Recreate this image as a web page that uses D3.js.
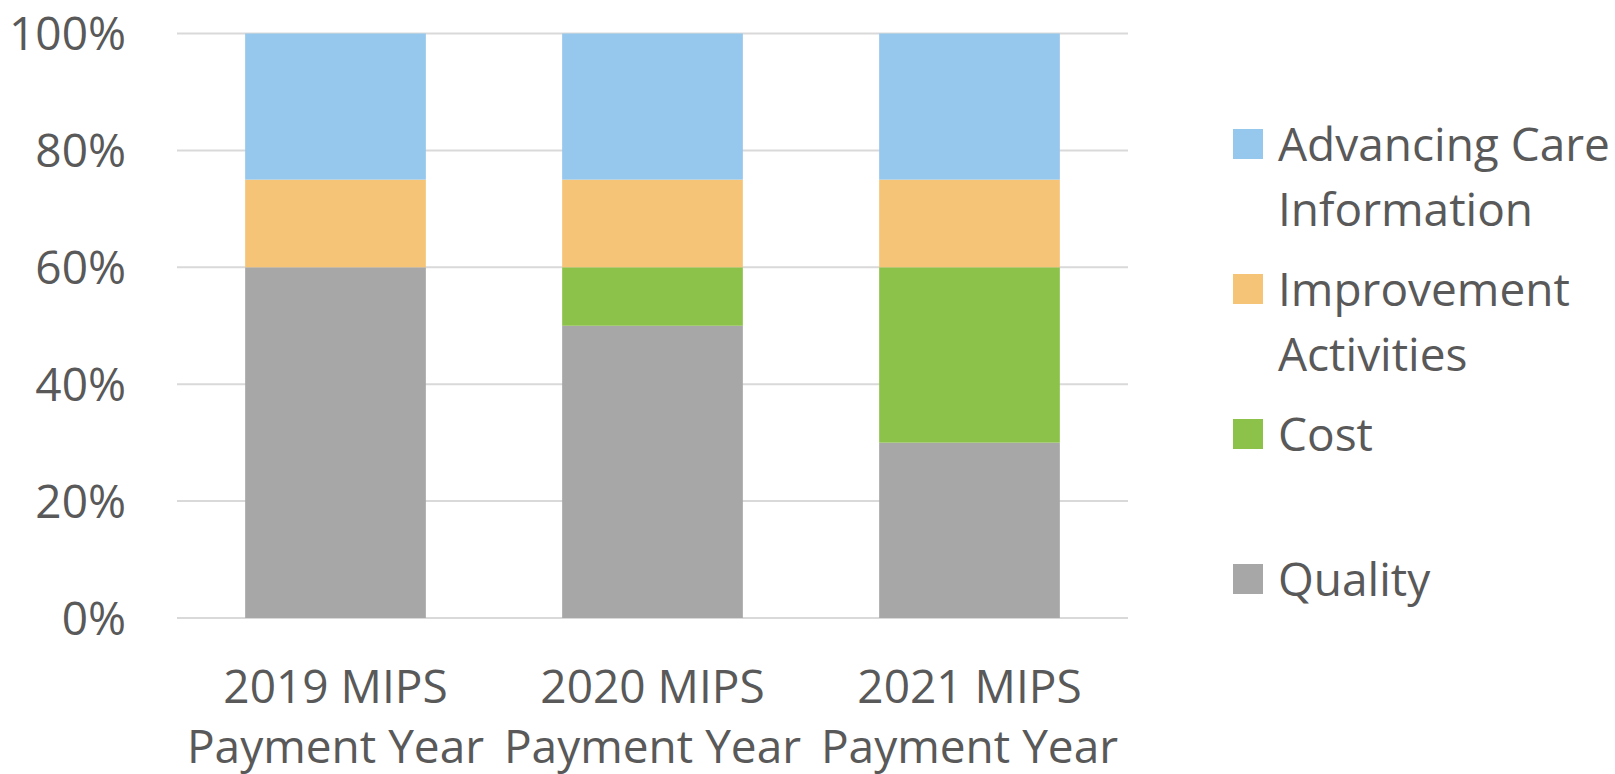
<!DOCTYPE html>
<html>
<head>
<meta charset="utf-8">
<script src="https://cdn.jsdelivr.net/npm/d3@7"></script>
<style>
  html, body { margin: 0; padding: 0; background: #fff; }
  text { font-family: "Open Sans", "Noto Sans", sans-serif; fill: #595959; }
</style>
</head>
<body>
<div class="chart"></div>
<script>
var years = [["2019 MIPS", "Payment Year"], ["2020 MIPS", "Payment Year"], ["2021 MIPS", "Payment Year"]];
var seriesNames = ["Quality", "Cost", "Improvement Activities", "Advancing Care Information"];
var quality = [60, 50, 30];
var cost = [0, 10, 30];
var improvement = [15, 15, 15];
var advancing = [25, 25, 25];
var yTicks = [0, 20, 40, 60, 80, 100];

var colors = {
    "Quality": "#a7a7a7",
    "Cost": "#8cc24a",
    "Improvement Activities": "#f6c477",
    "Advancing Care Information": "#96c7ec"
};
// legend order top to bottom, with wrapped lines
var legendItems = [
    {name: "Advancing Care Information", lines: ["Advancing Care", "Information"]},
    {name: "Improvement Activities", lines: ["Improvement", "Activities"]},
    {name: "Cost", lines: ["Cost"]},
    {name: "Quality", lines: ["Quality"]}
];

var w = 1615, h = 774;
var plotLeft = 177, plotRight = 1128, plotTop = 33.5, plotBottom = 618;

var rows = years.map(function(y, i) {
    return {
        key: i,
        "Quality": quality[i],
        "Cost": cost[i],
        "Improvement Activities": improvement[i],
        "Advancing Care Information": advancing[i]
    };
});

var stack = d3.stack().keys(seriesNames)(rows);

var x = d3.scaleBand()
    .domain(d3.range(years.length))
    .range([plotLeft, plotRight])
    .paddingInner(0.43)
    .paddingOuter(0.215);

var y = d3.scaleLinear().domain([0, 100]).range([plotBottom, plotTop]);

var svg = d3.select(".chart").append("svg")
    .attr("width", w)
    .attr("height", h);

// gridlines
svg.append("g")
    .selectAll("line")
    .data(yTicks)
    .enter().append("line")
    .attr("x1", plotLeft)
    .attr("x2", plotRight)
    .attr("y1", function(d) { return y(d); })
    .attr("y2", function(d) { return y(d); })
    .style("stroke", "#d9d9d9")
    .style("stroke-width", "2px");

// y tick labels
svg.append("g")
    .selectAll("text")
    .data(yTicks)
    .enter().append("text")
    .attr("x", 126)
    .attr("y", function(d) { return y(d); })
    .attr("dy", "0.36em")
    .attr("text-anchor", "end")
    .style("font-size", "46px")
    .text(function(d) { return d + "%"; });

// bars
var layers = svg.append("g")
    .selectAll("g")
    .data(stack)
    .enter().append("g")
    .attr("fill", function(d) { return colors[d.key]; });

layers.selectAll("rect")
    .data(function(d) { return d; })
    .enter().append("rect")
    .attr("x", function(d, i) { return x(i); })
    .attr("width", x.bandwidth())
    .attr("y", function(d) { return y(d[1]); })
    .attr("height", function(d) { return y(d[0]) - y(d[1]); });

// x labels
var xl = svg.append("g")
    .selectAll("text")
    .data(years)
    .enter().append("text")
    .attr("text-anchor", "middle")
    .style("font-size", "46px")
    .attr("x", function(d, i) { return x(i) + x.bandwidth() / 2; })
    .attr("y", 703);

xl.selectAll("tspan")
    .data(function(d) { return d; })
    .enter().append("tspan")
    .attr("x", function() { return d3.select(this.parentNode).attr("x"); })
    .attr("dy", function(d, i) { return i === 0 ? 0 : 60; })
    .text(function(d) { return d; });

// legend
var legend = svg.append("g")
    .selectAll("g")
    .data(legendItems)
    .enter().append("g")
    .attr("transform", function(d, i) { return "translate(1233," + (129 + i * 145) + ")"; });

legend.append("rect")
    .attr("width", 30)
    .attr("height", 30)
    .attr("fill", function(d) { return colors[d.name]; });

legend.append("text")
    .attr("x", 45)
    .attr("y", 32)
    .style("font-size", "46px")
    .selectAll("tspan")
    .data(function(d) { return d.lines; })
    .enter().append("tspan")
    .attr("x", 45)
    .attr("dy", function(d, i) { return i === 0 ? 0 : 65; })
    .text(function(d) { return d; });
</script>
</body>
</html>
